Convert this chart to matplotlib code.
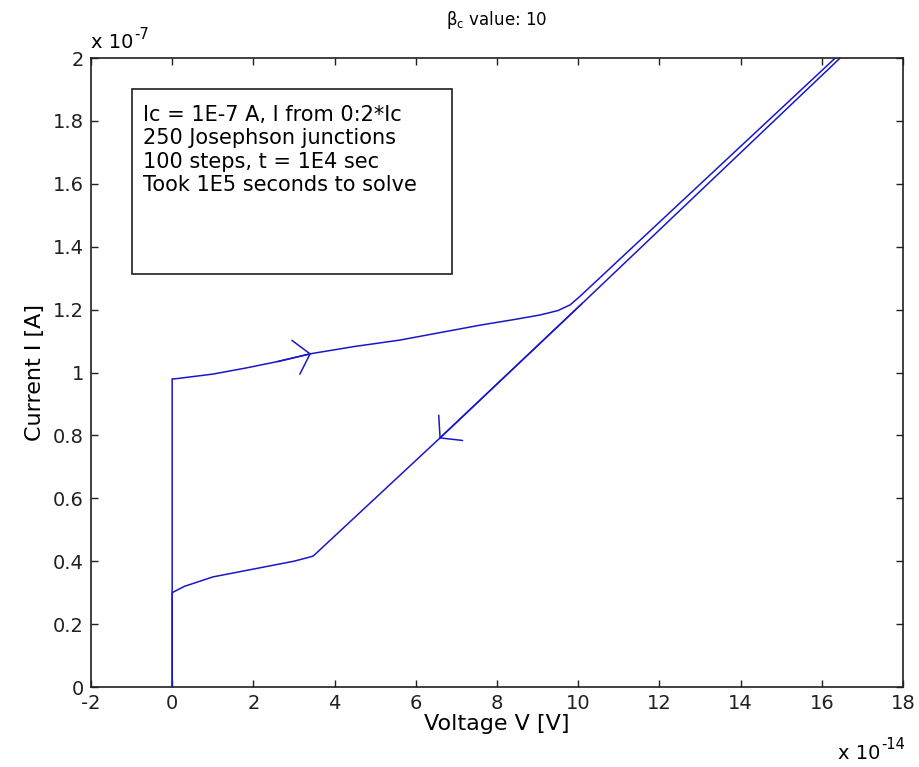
import numpy as np
import matplotlib.pyplot as plt
from matplotlib.patches import Rectangle

plt.rcParams['font.family'] = ['DejaVu Sans']

# I-V sweep of the junction array
# voltage in units of 1e-14 V, current in units of 1e-7 A
v_up = [0, 0, 0.07, 1.0, 1.8, 2.6, 3.42, 4.5, 5.6, 6.6, 7.6, 8.4, 9.06, 9.5, 9.8, 10.05, 16.33]
i_up = [0, 0.98, 0.98, 0.995, 1.014, 1.035, 1.06, 1.083, 1.103, 1.127, 1.151, 1.168, 1.183,
        1.197, 1.215, 1.243, 2.0]
v_down = [16.45, 10.1, 6.58, 3.47, 3.0, 2.0, 1.0, 0.3, 0, 0]
i_down = [2.0, 1.22, 0.79, 0.416, 0.40, 0.375, 0.35, 0.32, 0.30, 0]

beta_c = 10
info = ["Ic = 1E-7 A, I from 0:2*Ic",
        "250 Josephson junctions",
        "100 steps, t = 1E4 sec",
        "Took 1E5 seconds to solve"]

xticks = np.arange(-2, 19, 2)
yticks = np.arange(0, 2.01, 0.2)

fig = plt.figure(figsize=(9.19, 7.67), dpi=100)
ax = fig.add_axes([0.099, 0.1043, 0.8836, 0.820])

ax.plot(v_up, i_up, color='#1818c8', lw=1.1)
ax.plot(v_down, i_down, color='#1818c8', lw=1.1)

# direction arrows
astyle = dict(arrowstyle='->,head_length=0.42,head_width=0.5', color='#1818c8',
              lw=1.1, shrinkA=0, shrinkB=0, mutation_scale=25)
ax.annotate('', xy=(v_up[6], i_up[6]), xytext=(v_up[5], i_up[5]), arrowprops=astyle)
ax.annotate('', xy=(v_down[2], i_down[2]), xytext=(v_down[1], i_down[1]), arrowprops=astyle)

ax.set_xlim(-2, 18)
ax.set_ylim(0, 2)
ax.set_xticks(xticks)
ax.set_yticks(yticks)
ax.set_xticklabels(['%g' % t for t in xticks])
ax.set_yticklabels(['%g' % round(t, 1) for t in yticks])
ax.tick_params(direction='in', length=5, width=1, labelsize=14, top=True, right=True,
               pad=5, colors='#202020')
for s in ax.spines.values():
    s.set_linewidth(1.2)
    s.set_color('#202020')

ax.set_xlabel('Voltage V [V]', fontsize=16, labelpad=1)
ax.set_ylabel('Current I [A]', fontsize=16, labelpad=6)

# exponent labels
ty = ax.text(0.0, 1.010, 'x 10', transform=ax.transAxes, fontsize=14, ha='left', va='bottom')
ax.annotate('-7', xy=(1, 1), xycoords=ty, xytext=(1, -1), textcoords='offset points',
            fontsize=10.5, ha='left', va='center')
tx = ax.text(0.9717, -0.09, 'x 10', transform=ax.transAxes, fontsize=14, ha='right', va='top')
ax.annotate('-14', xy=(1, 1), xycoords=tx, xytext=(1, -1), textcoords='offset points',
            fontsize=10.5, ha='left', va='center')

fig.text(497 / 919, 1 - 20 / 767, r'$\mathrm{\beta_c}$ value: %d' % beta_c,
         fontsize=12, ha='center', va='center')

# info box
ax.add_patch(Rectangle((0.0505, 0.657), 0.394, 0.294, transform=ax.transAxes,
                       fill=False, lw=1.2, ec='#202020'))
ax.text(0.064, 0.926, '\n'.join(info), transform=ax.transAxes, fontsize=15,
        ha='left', va='top', linespacing=1.22)

fig.savefig('out.png', dpi=100)
